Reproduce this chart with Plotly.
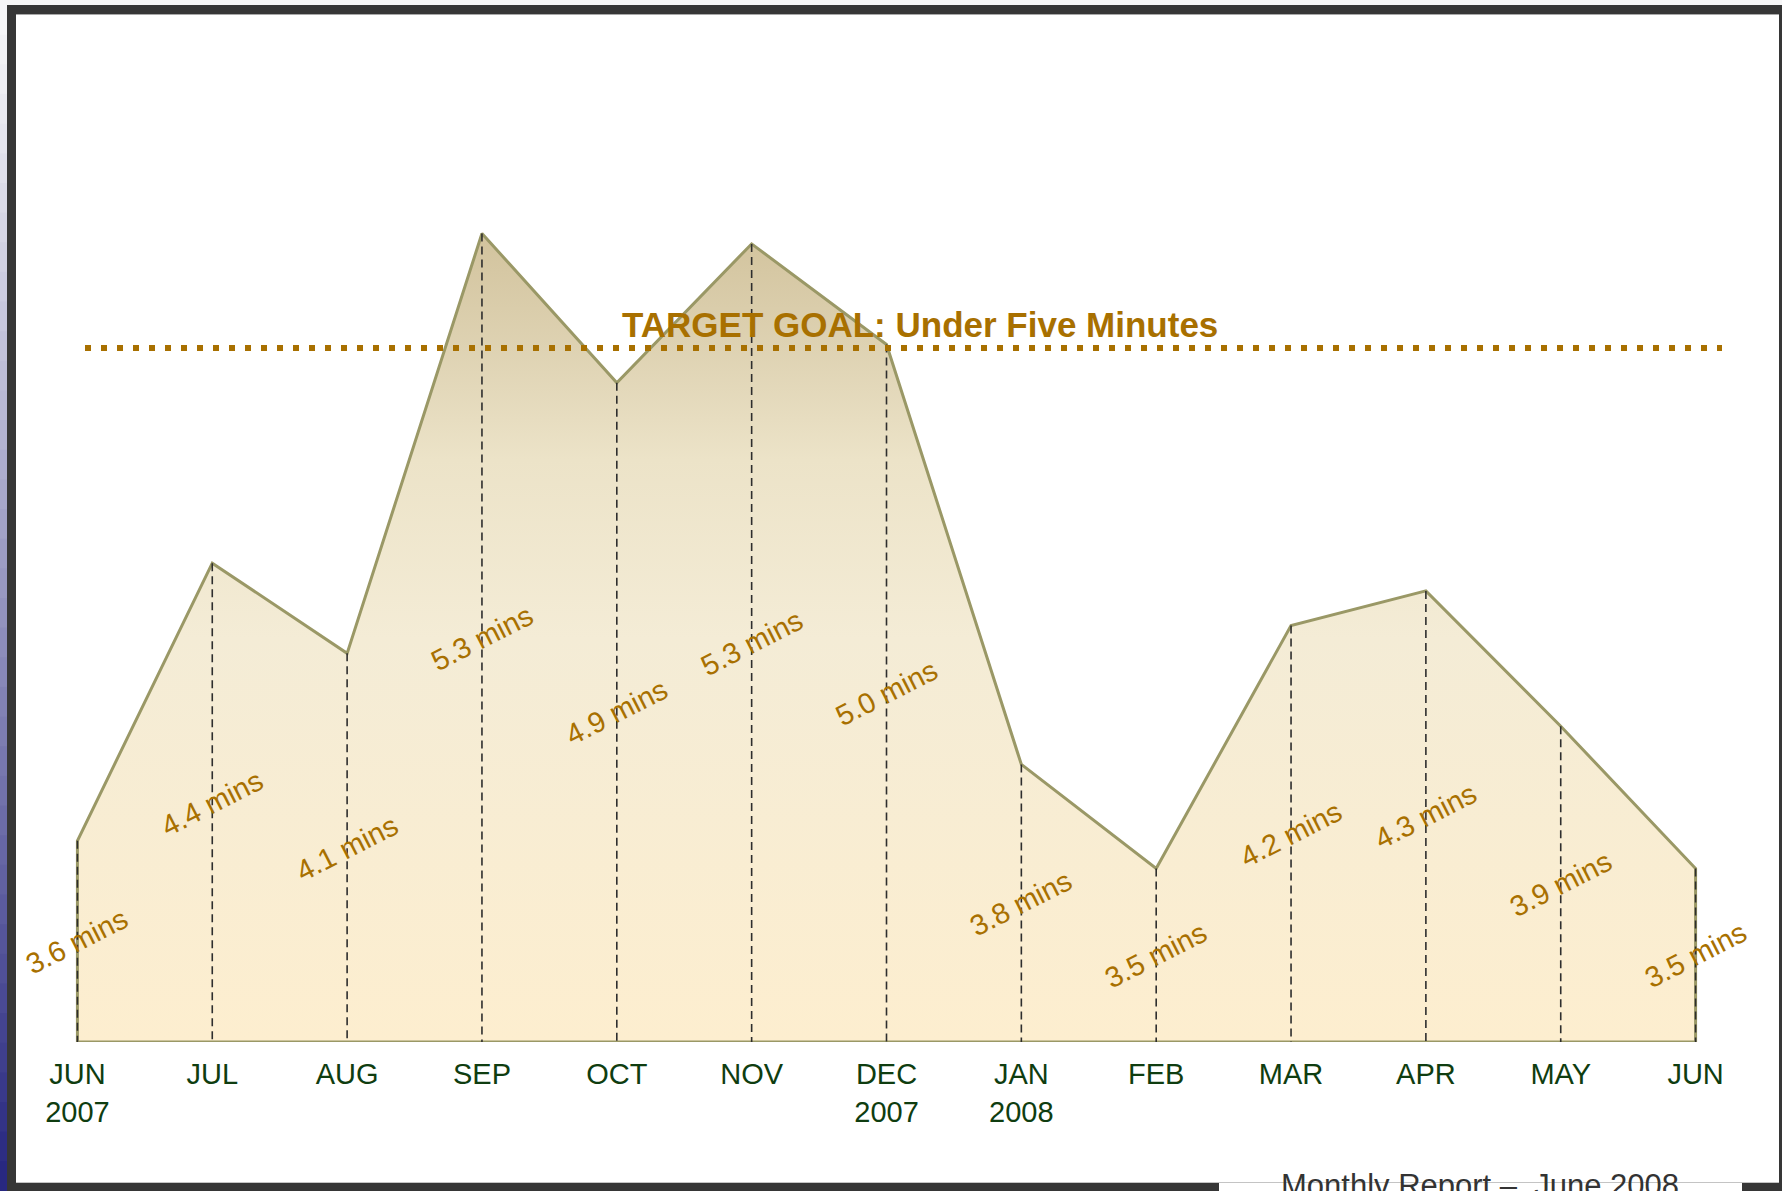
import plotly.graph_objects as go

W, H = 1782, 1191

# ---- data -------------------------------------------------------------
months = ["JUN<br>2007", "JUL", "AUG", "SEP", "OCT", "NOV", "DEC<br>2007",
          "JAN<br>2008", "FEB", "MAR", "APR", "MAY", "JUN"]
minutes = [3.58, 4.38, 4.12, 5.33, 4.90, 5.30, 5.01, 3.80, 3.50, 4.20, 4.30, 3.91, 3.50]
labels = ["3.6 mins", "4.4 mins", "4.1 mins", "5.3 mins", "4.9 mins", "5.3 mins",
          "5.0 mins", "3.8 mins", "3.5 mins", "4.2 mins", "4.3 mins", "3.9 mins",
          "3.5 mins"]
target = 5.0
target_text = "TARGET GOAL: Under Five Minutes"
footer = "Monthly Report \u2013  June 2008"

# ---- geometry ---------------------------------------------------------
L, R, T, B = 10, 19, 130, 149
PW, PH = W - L - R, H - T - B
X0, X1 = -0.5, 12.5
Y0 = 3.0
Y1 = Y0 + PH / 347.0

GOLD = "#a87000"
OLIVE = "#9a9866"
FRAME = "#363636"


def px(x):
    return (x - L) / PW


def py(y):
    return (H - B - y) / PH


def xd(x):
    # page pixel -> x data value
    return X0 + (x - L) / PW * (X1 - X0)


xs = list(range(len(minutes)))
fig = go.Figure()

# filled area, closed polygon so the outline runs along the base too
poly_x = [xs[0]] + xs + [xs[-1], xs[0]]
poly_y = [Y0] + minutes + [Y0, Y0]
fig.add_trace(go.Scatter(
    x=poly_x, y=poly_y, mode="lines", fill="toself",
    line=dict(color=OLIVE, width=3),
    fillgradient=dict(
        type="vertical", start=Y0, stop=max(minutes),
        colorscale=[[0, "#fdeecf"], [0.5, "#f4ecd6"], [0.72, "#ece3c8"],
                    [0.86, "#ded2b2"], [1, "#d2c39d"]],
    ),
    hoverinfo="skip", showlegend=False,
))

# dashed drop lines
drop_x, drop_y = [], []
for x, v in zip(xs, minutes):
    drop_x += [x, x, None]
    drop_y += [v, Y0, None]
fig.add_trace(go.Scatter(
    x=drop_x, y=drop_y, mode="lines",
    line=dict(color="#2e2e2e", width=1.6, dash="8px,5px"),
    hoverinfo="skip", showlegend=False,
))

# target line
fig.add_trace(go.Scatter(
    x=[xd(85), xd(1722)], y=[target, target],
    mode="lines", line=dict(color=GOLD, width=6, dash="6px,10px"),
    hoverinfo="skip", showlegend=False,
))

fig.add_annotation(
    x=xd(920), y=target, text=target_text, showarrow=False,
    yanchor="bottom", yshift=2,
    font=dict(family="Liberation Sans, Arial", size=35, color=GOLD, weight="bold"),
)

# value labels, centred half way between point and base
for x, v, t in zip(xs, minutes, labels):
    fig.add_annotation(
        x=x, y=(v + Y0) / 2, text=t, showarrow=False, textangle=-27,
        font=dict(family="Liberation Sans, Arial", size=29, color=GOLD),
    )

# footer, partly cut by the page edge
fig.add_annotation(
    xref="paper", yref="paper", x=px(1480), y=py(1166),
    xanchor="center", yanchor="top",
    text=footer, showarrow=False,
    font=dict(family="Liberation Sans, Arial", size=31, color="#333333"),
)

# ---- frame ------------------------------------------------------------
shapes = []


def rect(x0, y0, x1, y1, color):
    shapes.append(dict(type="rect", xref="paper", yref="paper",
                       x0=px(x0), x1=px(x1), y0=py(y1), y1=py(y0),
                       fillcolor=color, line=dict(width=0), layer="above"))


rect(0, 0, W, 5, "#f6f6f7")
n = 40
for i in range(n):
    f = i / (n - 1)
    r = int(246 + (40 - 246) * f ** 1.1)
    g = int(246 + (40 - 246) * f ** 1.1)
    b = int(248 + (128 - 248) * f ** 1.1)
    rect(0, 5 + (H - 5) * i / n, 7, 5 + (H - 5) * (i + 1) / n + 1, f"rgb({r},{g},{b})")
rect(7, 5, W, 14, FRAME)
rect(16, 14, W - 3, 15, "#a8a8a8")
rect(7, 5, 16, H, FRAME)
rect(W - 3, 5, W, H, FRAME)
rect(16, 1182, W - 3, 1183, "#c4c4c4")
rect(7, 1183, 1219, H, FRAME)
rect(1742, 1183, W, H, FRAME)

fig.update_layout(
    width=W, height=H,
    margin=dict(l=L, r=R, t=T, b=B, pad=0),
    paper_bgcolor="white", plot_bgcolor="rgba(0,0,0,0)",
    shapes=shapes, showlegend=False,
    font=dict(family="Liberation Sans, Arial"),
)
fig.update_xaxes(
    range=[X0, X1], tickvals=xs, ticktext=months, showgrid=False, zeroline=False,
    showline=False, ticks="", ticklabelstandoff=12,
    tickfont=dict(family="Liberation Sans, Arial", size=29, color="#0f3d10"),
)
fig.update_yaxes(range=[Y0, Y1], visible=False)

fig.write_html(
    "out.html",
    config={"displayModeBar": False},
    post_script="document.body.style.margin='0';document.body.style.overflow='hidden';",
)
